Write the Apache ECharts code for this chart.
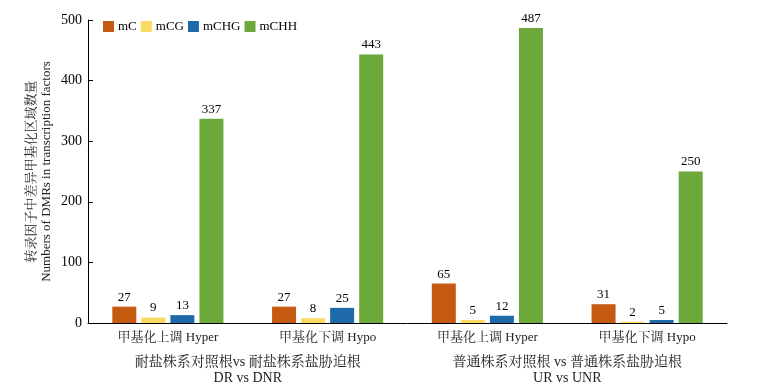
<!DOCTYPE html>
<html>
<head>
<meta charset="utf-8">
<script src="https://cdn.jsdelivr.net/npm/echarts@6/dist/echarts.min.js"></script>
<style>html,body{margin:0;padding:0;background:#fff;}#c{width:763px;height:389px;}</style>
</head>
<body>
<div id="c"></div>
<script>
const categories = ['甲基化上调 Hyper', '甲基化下调 Hypo', '甲基化上调 Hyper', '甲基化下调 Hypo'];
const groups = ['耐盐株系对照根vs 耐盐株系盐胁迫根\nDR vs DNR', '普通株系对照根 vs 普通株系盐胁迫根\nUR vs UNR'];
const seriesNames = ['mC', 'mCG', 'mCHG', 'mCHH'];
const mC = [27, 27, 65, 31];
const mCG = [9, 8, 5, 2];
const mCHG = [13, 25, 12, 5];
const mCHH = [337, 443, 487, 250];
const yTicks = [0, 100, 200, 300, 400, 500];
const colors = ['#C55A11', '#F9DA62', '#1F6BAA', '#6DA83B'];
const FONT = "'Liberation Serif', 'Noto Serif CJK SC', 'Noto Sans CJK SC', serif";

const values = [mC, mCG, mCHG, mCHH];
const chart = echarts.init(document.getElementById('c'), null, {renderer: 'canvas'});
chart.setOption({
  animation: false,
  backgroundColor: '#fff',
  textStyle: {fontFamily: FONT},
  grid: {left: 88, right: 36, top: 20, bottom: 66},
  legend: {
    left: 103, top: 20, padding: 0, itemWidth: 11, itemHeight: 11, itemGap: 4,
    icon: 'rect',
    textStyle: {fontFamily: FONT, fontSize: 13, color: '#000', padding: [0, 0, 0, -1]},
    data: seriesNames
  },
  xAxis: [{
    type: 'category',
    data: categories,
    axisLine: {lineStyle: {color: '#000', width: 1}},
    axisTick: {inside: true, length: 5, lineStyle: {color: '#000'}},
    axisLabel: {fontFamily: FONT, fontSize: 13, color: '#222', margin: 8, interval: 0}
  }, {
    type: 'category',
    position: 'bottom',
    offset: 24,
    data: groups,
    axisLine: {show: false},
    axisTick: {show: false},
    axisLabel: {fontFamily: FONT, fontSize: 14, color: '#222', lineHeight: 16, margin: 7, interval: 0}
  }],
  yAxis: {
    type: 'value',
    min: yTicks[0], max: yTicks[yTicks.length - 1], interval: 100,
    name: '转录因子中差异甲基化区域数量\nNumbers of DMRs in transcription factors',
    nameLocation: 'middle',
    nameGap: 34,
    nameMoveOverlap: false,
    nameRotate: 90,
    nameTextStyle: {fontFamily: FONT, fontSize: 13, color: '#222', lineHeight: 15},
    axisLine: {show: true, lineStyle: {color: '#000', width: 1}},
    axisTick: {show: true, inside: true, length: 5, lineStyle: {color: '#000'}},
    axisLabel: {fontFamily: FONT, fontSize: 14, color: '#000', margin: 6},
    splitLine: {show: false}
  },
  series: seriesNames.map((n, i) => ({
    name: n,
    type: 'bar',
    xAxisIndex: 0,
    data: values[i],
    barWidth: 24,
    barGap: '21%',
    itemStyle: {color: colors[i]},
    label: {show: true, position: 'top', distance: 3, fontFamily: FONT, fontSize: 13, color: '#000'}
  }))
});
</script>
</body>
</html>
